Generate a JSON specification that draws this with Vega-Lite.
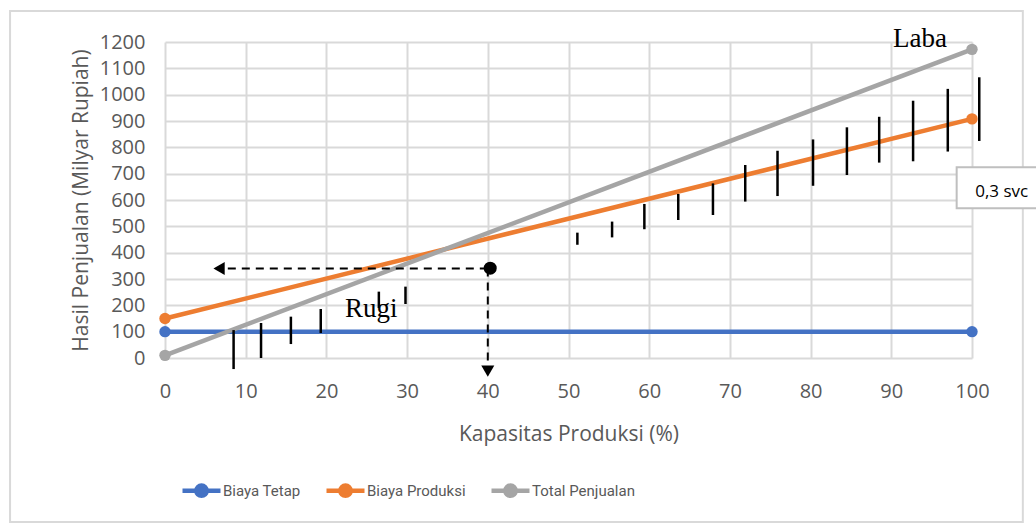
{
  "$schema": "https://vega.github.io/schema/vega-lite/v6.json",
  "width": 807,
  "height": 316,
  "autosize": {"type": "none"},
  "padding": {"left": 165, "top": 42, "right": 64, "bottom": 165},
  "background": "white",
  "config": {
    "view": {"stroke": null},
    "axis": {
      "grid": true,
      "gridColor": "#d9d9d9",
      "gridWidth": 2,
      "domain": false,
      "ticks": false,
      "tickSize": 0,
      "labelColor": "#595959",
      "labelFont": "Open Sans",
      "labelFontSize": 20,
      "labelOverlap": false,
      "labelFlush": false,
      "format": "d",
      "titleColor": "#595959",
      "titleFont": "Open Sans",
      "titleFontSize": 21,
      "titleFontWeight": "normal"
    },
    "axisX": {"tickCount": 10, "labelPadding": 23, "titlePadding": 22},
    "axisY": {"tickCount": 12, "labelPadding": 20, "titlePadding": 8}
  },
  "datasets": {
    "series": [
      {"kapasitas": 0, "nilai": 100, "seri": "Biaya Tetap"},
      {"kapasitas": 100, "nilai": 100, "seri": "Biaya Tetap"},
      {"kapasitas": 0, "nilai": 150, "seri": "Biaya Produksi"},
      {"kapasitas": 100, "nilai": 908, "seri": "Biaya Produksi"},
      {"kapasitas": 0, "nilai": 10, "seri": "Total Penjualan"},
      {"kapasitas": 100, "nilai": 1172, "seri": "Total Penjualan"}
    ],
    "hatch": [
      {"x": 8.5, "y": 106, "y2": -42},
      {"x": 11.9, "y": 133, "y2": 0},
      {"x": 15.6, "y": 157, "y2": 53},
      {"x": 19.3, "y": 186, "y2": 95},
      {"x": 26.5, "y": 252, "y2": 190},
      {"x": 29.8, "y": 271, "y2": 205},
      {"x": 51.1, "y": 476, "y2": 430},
      {"x": 55.4, "y": 518, "y2": 458},
      {"x": 59.4, "y": 585, "y2": 489},
      {"x": 63.6, "y": 623, "y2": 524},
      {"x": 67.9, "y": 663, "y2": 543},
      {"x": 71.9, "y": 733, "y2": 594},
      {"x": 75.9, "y": 787, "y2": 615},
      {"x": 80.3, "y": 830, "y2": 654},
      {"x": 84.5, "y": 876, "y2": 695},
      {"x": 88.5, "y": 916, "y2": 742},
      {"x": 92.7, "y": 977, "y2": 747},
      {"x": 97.0, "y": 1022, "y2": 784},
      {"x": 100.9, "y": 1066, "y2": 824}
    ]
  },
  "layer": [
    {
      "data": {"values": [{"x": -19.2, "x2": 106.3, "y": 1318, "y2": -623}]},
      "mark": {"type": "rect", "fill": null, "stroke": "#d9d9d9", "strokeWidth": 2, "clip": false},
      "encoding": {
        "x": {
          "field": "x", "type": "quantitative",
          "scale": {"domain": [0, 100], "nice": false, "zero": false},
          "title": "Kapasitas Produksi (%)"
        },
        "x2": {"field": "x2"},
        "y": {
          "field": "y", "type": "quantitative",
          "scale": {"domain": [0, 1200], "nice": false},
          "title": "Hasil Penjualan (Milyar Rupiah)"
        },
        "y2": {"field": "y2"}
      }
    },
    {
      "data": {"name": "series"},
      "mark": {"type": "line", "strokeWidth": 4.5, "point": {"filled": true, "size": 130, "opacity": 1}, "clip": false},
      "encoding": {
        "x": {"field": "kapasitas", "type": "quantitative", "title": "Kapasitas Produksi (%)"},
        "y": {"field": "nilai", "type": "quantitative", "title": "Hasil Penjualan (Milyar Rupiah)"},
        "color": {
          "field": "seri", "type": "nominal",
          "scale": {"domain": ["Biaya Tetap", "Biaya Produksi", "Total Penjualan"], "range": ["#4472C4", "#ED7D31", "#A5A5A5"]},
          "legend": {
            "title": null,
            "orient": "none",
            "direction": "horizontal",
            "legendX": 15,
            "legendY": 427,
            "symbolType": "M-1,0L1,0M-0.27,0A0.27,0.27 0 1,0 0.27,0A0.27,0.27 0 1,0 -0.27,0",
            "symbolSize": 1444,
            "symbolStrokeWidth": 4.5,
            "labelFont": "Roboto",
            "labelFontSize": 15,
            "labelColor": "#595959",
            "labelOffset": 0,
            "columnPadding": 16,
            "encode": {"symbols": {"update": {"fill": {"scale": "color", "field": "value"}, "stroke": {"scale": "color", "field": "value"}, "opacity": {"value": 1}}}}
          }
        }
      }
    },
    {
      "data": {"name": "hatch"},
      "mark": {"type": "rule", "color": "black", "strokeWidth": 2.5, "clip": false},
      "encoding": {
        "x": {"field": "x", "type": "quantitative", "title": "Kapasitas Produksi (%)"},
        "y": {"field": "y", "type": "quantitative", "title": "Hasil Penjualan (Milyar Rupiah)"},
        "y2": {"field": "y2"}
      }
    },
    {
      "data": {"values": [
        {"x": 40, "x2": 7.5, "y": 340, "y2": 340},
        {"x": 40, "x2": 40, "y": 340, "y2": -42}
      ]},
      "mark": {"type": "rule", "color": "black", "strokeWidth": 2, "strokeDash": [8, 6], "clip": false},
      "encoding": {
        "x": {"field": "x", "type": "quantitative", "title": "Kapasitas Produksi (%)"},
        "x2": {"field": "x2"},
        "y": {"field": "y", "type": "quantitative", "title": "Hasil Penjualan (Milyar Rupiah)"},
        "y2": {"field": "y2"}
      }
    },
    {
      "data": {"values": [{"x": 6.7, "y": 340}]},
      "mark": {"type": "point", "shape": "triangle-left", "filled": true, "color": "black", "size": 170, "opacity": 1, "clip": false},
      "encoding": {
        "x": {"field": "x", "type": "quantitative", "title": "Kapasitas Produksi (%)"},
        "y": {"field": "y", "type": "quantitative", "title": "Hasil Penjualan (Milyar Rupiah)"}
      }
    },
    {
      "data": {"values": [{"x": 40, "y": -50}]},
      "mark": {"type": "point", "shape": "triangle-down", "filled": true, "color": "black", "size": 170, "opacity": 1, "clip": false},
      "encoding": {
        "x": {"field": "x", "type": "quantitative", "title": "Kapasitas Produksi (%)"},
        "y": {"field": "y", "type": "quantitative", "title": "Hasil Penjualan (Milyar Rupiah)"}
      }
    },
    {
      "data": {"values": [{"x": 40.3, "y": 341}]},
      "mark": {"type": "circle", "color": "black", "size": 170, "opacity": 1, "clip": false},
      "encoding": {
        "x": {"field": "x", "type": "quantitative", "title": "Kapasitas Produksi (%)"},
        "y": {"field": "y", "type": "quantitative", "title": "Hasil Penjualan (Milyar Rupiah)"}
      }
    },
    {
      "data": {"values": [
        {"x": 22.3, "y": 157, "teks": "Rugi"},
        {"x": 90.2, "y": 1182, "teks": "Laba"}
      ]},
      "mark": {"type": "text", "font": "Liberation Serif", "fontSize": 27, "align": "left", "baseline": "alphabetic", "color": "black", "clip": false},
      "encoding": {
        "x": {"field": "x", "type": "quantitative", "title": "Kapasitas Produksi (%)"},
        "y": {"field": "y", "type": "quantitative", "title": "Hasil Penjualan (Milyar Rupiah)"},
        "text": {"field": "teks"}
      }
    },
    {
      "data": {"values": [{"x": 98.1, "x2": 112, "y": 724, "y2": 569}]},
      "mark": {"type": "rect", "fill": "white", "stroke": "#bfbfbf", "strokeWidth": 2, "clip": false},
      "encoding": {
        "x": {"field": "x", "type": "quantitative", "title": "Kapasitas Produksi (%)"},
        "x2": {"field": "x2"},
        "y": {"field": "y", "type": "quantitative", "title": "Hasil Penjualan (Milyar Rupiah)"},
        "y2": {"field": "y2"}
      }
    },
    {
      "data": {"values": [{"x": 100.4, "y": 612, "teks": "0,3 svc"}]},
      "mark": {"type": "text", "font": "Open Sans", "fontSize": 17, "align": "left", "baseline": "alphabetic", "color": "black", "clip": false},
      "encoding": {
        "x": {"field": "x", "type": "quantitative", "title": "Kapasitas Produksi (%)"},
        "y": {"field": "y", "type": "quantitative", "title": "Hasil Penjualan (Milyar Rupiah)"},
        "text": {"field": "teks"}
      }
    }
  ]
}
